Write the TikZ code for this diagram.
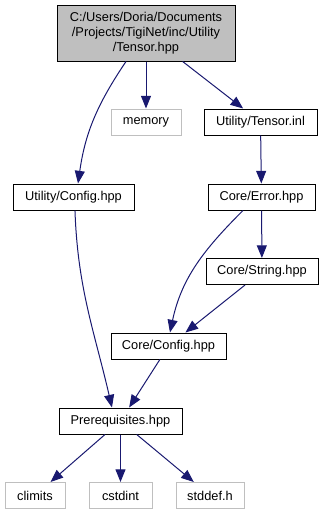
\documentclass[tikz,border=0pt]{standalone}
\usepackage{fontspec}
\setmainfont{Liberation Sans}
\usetikzlibrary{arrows.meta}
\definecolor{edgeblue}{HTML}{191970}
\definecolor{boxgray}{HTML}{BFBFBF}

\begin{document}
\begin{tikzpicture}[
  x=0.75pt, y=0.75pt,
  file/.style={rectangle, draw=black, fill=white, line width=0.75pt, inner sep=0pt,
    minimum width=#1, minimum height=19.5pt, font=\fontsize{9.6}{11.25}\selectfont, align=center},
  sysfile/.style={file=#1, draw=boxgray},
  dep/.style={-{Triangle[length=9.5pt,width=7.5pt]}, edgeblue, line width=0.75pt},
]
  \useasboundingbox (0,0) rectangle (325,-515);

  % include graph, top to bottom
  \node[file=133.5pt, fill=boxgray, minimum height=42pt] (tensor) at (146,-33)
    {C:/Users/Doria/Documents\\/Projects/TigiNet/inc/Utility\\/Tensor.hpp};
  \node[sysfile=52.5pt] (memory) at (146,-122) {memory};
  \node[file=84.75pt] (inl) at (260.5,-122) {Utility/Tensor.inl};
  \node[file=90.75pt] (uconfig) at (73.5,-197) {Utility/Config.hpp};
  \node[file=80.25pt] (error) at (261.5,-197) {Core/Error.hpp};
  \node[file=84pt] (string) at (262,-271.5) {Core/String.hpp};
  \node[file=86.25pt] (cconfig) at (168.5,-346) {Core/Config.hpp};
  \node[file=92.25pt] (prereq) at (120.5,-421) {Prerequisites.hpp};
  \node[sysfile=45pt] (climits) at (35,-495.5) {climits};
  \node[sysfile=47.25pt] (cstdint) at (120.5,-495.5) {cstdint};
  \node[sysfile=51pt] (stddef) at (210,-495.5) {stddef.h};

  \draw[dep] ([xshift=-15pt]tensor.south) to[out=236, in=82] ([xshift=3.4pt]uconfig.north);
  \draw[dep] (tensor) -- (memory);
  \draw[dep] (tensor) -- (inl);
  \draw[dep] (inl) -- (error);
  \draw[dep] (error) -- (string);
  \draw[dep] ([xshift=-13.9pt]error.south) to[out=225, in=78] ([xshift=1.1pt]cconfig.north);
  \draw[dep] (string) -- (cconfig);
  \draw[dep] ([xshift=1.1pt]uconfig.south) to[out=272, in=103] ([xshift=-6.4pt]prereq.north);
  \draw[dep] (cconfig) -- (prereq);
  \draw[dep] (prereq) -- (climits);
  \draw[dep] (prereq) -- (cstdint);
  \draw[dep] (prereq) -- (stddef);
\end{tikzpicture}
\end{document}
